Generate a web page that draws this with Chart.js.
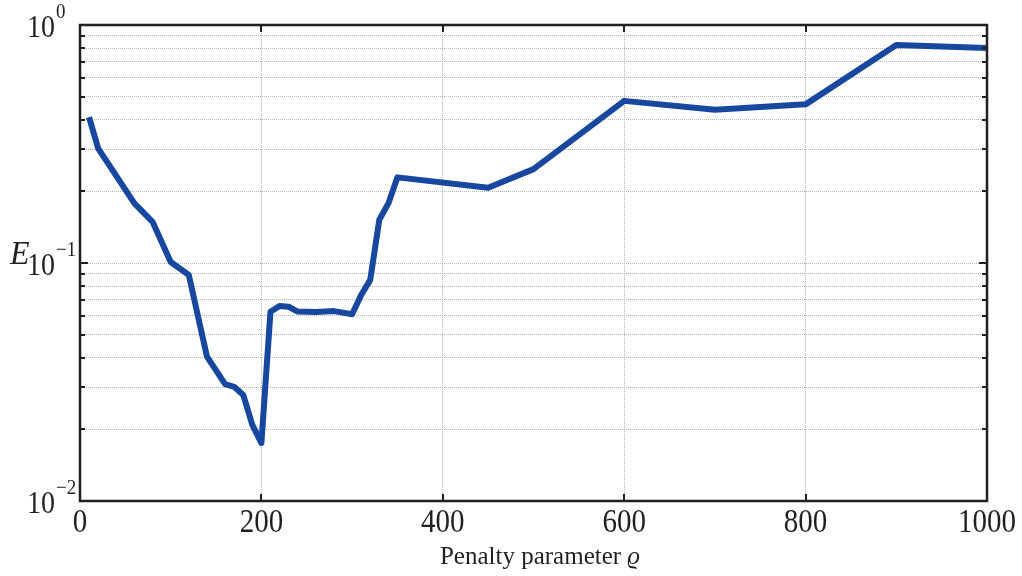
<!DOCTYPE html>
<html><head><meta charset="utf-8">
<script src="https://cdn.jsdelivr.net/npm/chart.js@4"></script>
<style>html,body{margin:0;padding:0;background:#fff}#wrap{width:1022px;height:576px}</style>
</head><body><div id="wrap"><canvas id="c" width="1022" height="576"></canvas></div>
<script>
const penalty = [10,20,60,80,100,120,140,160,170,180,190,200,210,220,230,240,260,280,300,310,320,330,340,350,450,500,600,700,800,900,1000];
const errorE  = [0.41,0.303,0.178,0.149,0.101,0.089,0.0404,0.031,0.0302,0.0279,0.0209,0.0175,0.0624,0.066,0.0655,0.0625,0.0623,0.0628,0.0609,0.0734,0.0849,0.152,0.178,0.229,0.207,0.248,0.48,0.44,0.464,0.824,0.80];
const xTickValues = [0,200,400,600,800,1000];
const xTickLabels = ['0','200','400','600','800','1000'];
const xGridValues = [200,400,600,800];
const yMajorValues = [0.01,0.1,1];
const yMajorExponents = ['\u22122','\u22121','0'];
const yGridValues = [0.02,0.03,0.04,0.05,0.06,0.07,0.08,0.09,0.1,0.2,0.3,0.4,0.5,0.6,0.7,0.8,0.9];
const xTitle = 'Penalty parameter ';
const xTitleSymbol = '\u03F1';
const yTitle = 'E';

const SERIF = '"Liberation Serif","DejaVu Serif",serif';
const INK = '#231f20';

function tallText(ctx, text, x, baseline, sy) {
  ctx.save();
  ctx.translate(x, baseline);
  ctx.scale(1, sy);
  ctx.fillText(text, 0, 0);
  ctx.restore();
}

const frame = {
  id: 'frame',
  afterDraw(chart) {
    const {ctx, chartArea: a, scales: {x, y}} = chart;
    ctx.save();
    ctx.strokeStyle = INK;
    ctx.lineCap = 'butt';
    const line = (x1, y1, x2, y2) => { ctx.beginPath(); ctx.moveTo(x1, y1); ctx.lineTo(x2, y2); ctx.stroke(); };
    ctx.lineWidth = 2;
    yGridValues.forEach(v => {
      const py = Math.round(y.getPixelForValue(v));
      const len = (v === 0.1) ? 8 : 5;
      line(a.left, py, a.left + len, py);
      line(a.right, py, a.right - len, py);
    });
    xGridValues.forEach(v => {
      const px = Math.round(x.getPixelForValue(v));
      line(px, a.bottom, px, a.bottom - 7);
      line(px, a.top, px, a.top + 7);
    });
    ctx.lineWidth = 2.5;
    ctx.strokeRect(a.left, a.top, a.right - a.left, a.bottom - a.top);

    ctx.fillStyle = INK;
    ctx.textBaseline = 'alphabetic';
    // y labels
    yMajorValues.forEach((v, i) => {
      const py = y.getPixelForValue(v);
      ctx.font = '28px ' + SERIF;
      ctx.textAlign = 'right';
      tallText(ctx, '10', 55, py + 12, 1.12);
      ctx.font = '19px ' + SERIF;
      ctx.textAlign = 'left';
      tallText(ctx, yMajorExponents[i], 56, py - 7, 1.1);
    });
    // x labels
    ctx.font = '29px ' + SERIF;
    ctx.textAlign = 'center';
    xTickValues.forEach((v, i) => {
      tallText(ctx, xTickLabels[i], x.getPixelForValue(v), 532, 1.14);
    });
    // x title
    ctx.font = '25px ' + SERIF;
    const w1 = ctx.measureText(xTitle).width;
    ctx.font = 'italic 25px ' + SERIF;
    const w2 = ctx.measureText(xTitleSymbol).width;
    const start = 540 - (w1 + w2) / 2;
    ctx.textAlign = 'left';
    ctx.font = '25px ' + SERIF;
    ctx.fillText(xTitle, start, 564);
    ctx.font = 'italic 25px ' + SERIF;
    ctx.fillText(xTitleSymbol, start + w1, 564);
    // y title
    ctx.font = 'italic 32px ' + SERIF;
    tallText(ctx, yTitle, 10, 264, 1.05);
    ctx.restore();
  }
};

new Chart(document.getElementById('c'), {
  type: 'line',
  data: {
    datasets: [{
      data: penalty.map((p, i) => ({x: p, y: errorE[i]})),
      borderColor: '#17479e',
      borderWidth: 6,
      pointRadius: 0,
      tension: 0,
      borderJoinStyle: 'round',
      fill: false
    }]
  },
  options: {
    responsive: false,
    animation: false,
    layout: {padding: {left: 80, right: 35, top: 25, bottom: 75}},
    plugins: {legend: {display: false}, tooltip: {enabled: false}},
    scales: {
      x: {
        type: 'linear', min: 0, max: 1000,
        afterBuildTicks: s => { s.ticks = xGridValues.map(v => ({value: v})); },
        ticks: {display: false},
        grid: {color: '#b4b4b4', lineWidth: 1, drawTicks: false},
        border: {display: false, dash: [1, 1]}
      },
      y: {
        type: 'logarithmic', min: 0.01, max: 1,
        afterBuildTicks: s => { s.ticks = yGridValues.map(v => ({value: v})); },
        ticks: {display: false},
        grid: {color: '#b4b4b4', lineWidth: 1, drawTicks: false},
        border: {display: false, dash: [1, 1]}
      }
    }
  },
  plugins: [frame]
});
</script>
</body></html>
